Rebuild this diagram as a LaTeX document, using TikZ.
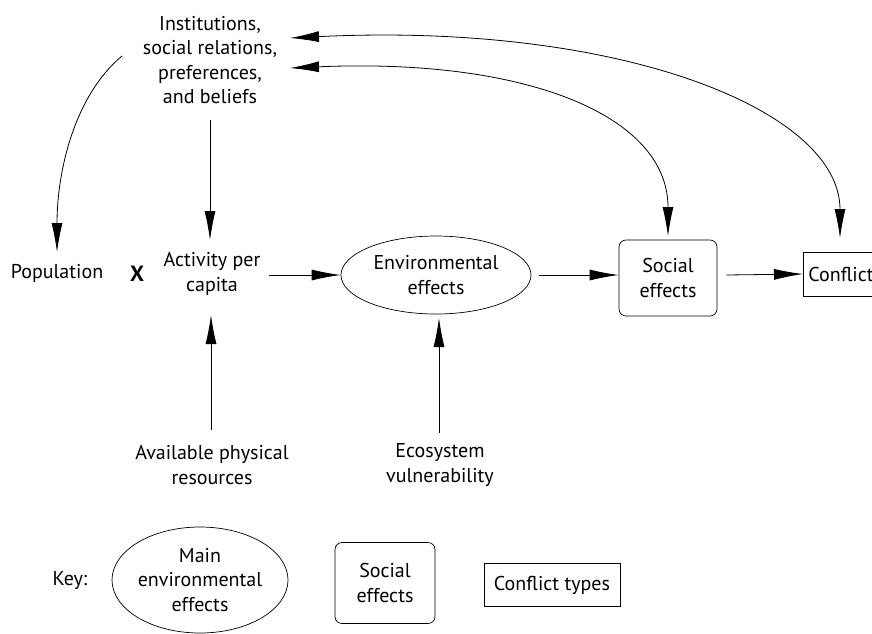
\documentclass[tikz,border=0pt]{standalone}
\usepackage{fontspec}
\setmainfont{PT Sans}
\usetikzlibrary{arrows.meta,shapes.geometric}
\begin{document}
\begin{tikzpicture}[x=1pt,y=-1pt,
  every node/.style={font=\fontsize{20}{24.5}\selectfont, align=center, inner sep=0pt},
  tip/.tip={Latex[length=29pt,width=11pt]},
  conn/.style={line width=0.8pt, -tip},
  twoway/.style={line width=0.8pt, tip-tip},
  envshape/.style={draw, ellipse, line width=0.7pt},
  socbox/.style={draw, rounded corners=7pt, line width=0.7pt},
  confbox/.style={draw, line width=0.7pt}]
\useasboundingbox (0,0) rectangle (872,633);
\clip (0,0) rectangle (872,633);

% main chain
\node (inst) at (210,60) {Institutions,\\social relations,\\preferences,\\and beliefs};
\node (pop) at (57,273) {Population};
\node (times) at (137,274) {\fontsize{22}{24}\selectfont\bfseries X};
\node (act) at (212,274) {Activity per\\capita};
\node[envshape, minimum width=190pt, minimum height=78pt] (env) at (436,275) {Environmental\\effects};
\node[socbox, minimum width=98pt, minimum height=76pt] (soc) at (668,278) {Social\\effects};
\node[confbox, anchor=west, minimum height=44pt, text width=100pt, align=left, inner xsep=5pt] (conf) at (803,274) {Conflict};
\node (res) at (212,465) {Available physical\\resources};
\node (eco) at (440,465) {Ecosystem\\vulnerability};

% free arrow ends around the text labels and above the boxes
\coordinate (instA) at (290,38);
\coordinate (instB) at (290,68);
\coordinate (instC) at (122,56);
\coordinate (instD) at (210,120);
\coordinate (popTop) at (57,252);
\coordinate (actTop) at (210,240);
\coordinate (actBot) at (211,315);
\coordinate (resTop) at (211,430);
\coordinate (envBot) at (439,318);
\coordinate (ecoTop) at (439,433);
\coordinate (confTop) at (840,238);
\coordinate (socTop) at (668,236);

% connectors
\draw[conn] (instD) -- (actTop);
\draw[conn] (instC) .. controls (75,95) and (57,170) .. (popTop);
\draw[twoway] (confTop) .. controls (840,110) and (620,22) .. (instA);
\draw[twoway] (socTop) .. controls (668,115) and (525,58) .. (instB);
\draw[conn] (act.east) ++(8,1) -- (env.west);
\draw[conn] (env.east) ++(8,0) -- (env.east -| soc.west);
\draw[conn] (soc.east) ++(9,-3) -- (conf.west);
\draw[conn] (resTop) -- (actBot);
\draw[conn] (ecoTop) -- (envBot);

% key
\node (key) at (70,581) {Key:};
\node[envshape, minimum width=176pt, minimum height=106pt] (keyenv) at (200,580) {Main\\environmental\\effects};
\node[socbox, minimum width=100pt, minimum height=81pt] (keysoc) at (385,583) {Social\\effects};
\node[confbox, minimum width=136pt, minimum height=43pt] (keyconf) at (552,585) {Conflict types};
\end{tikzpicture}
\end{document}
